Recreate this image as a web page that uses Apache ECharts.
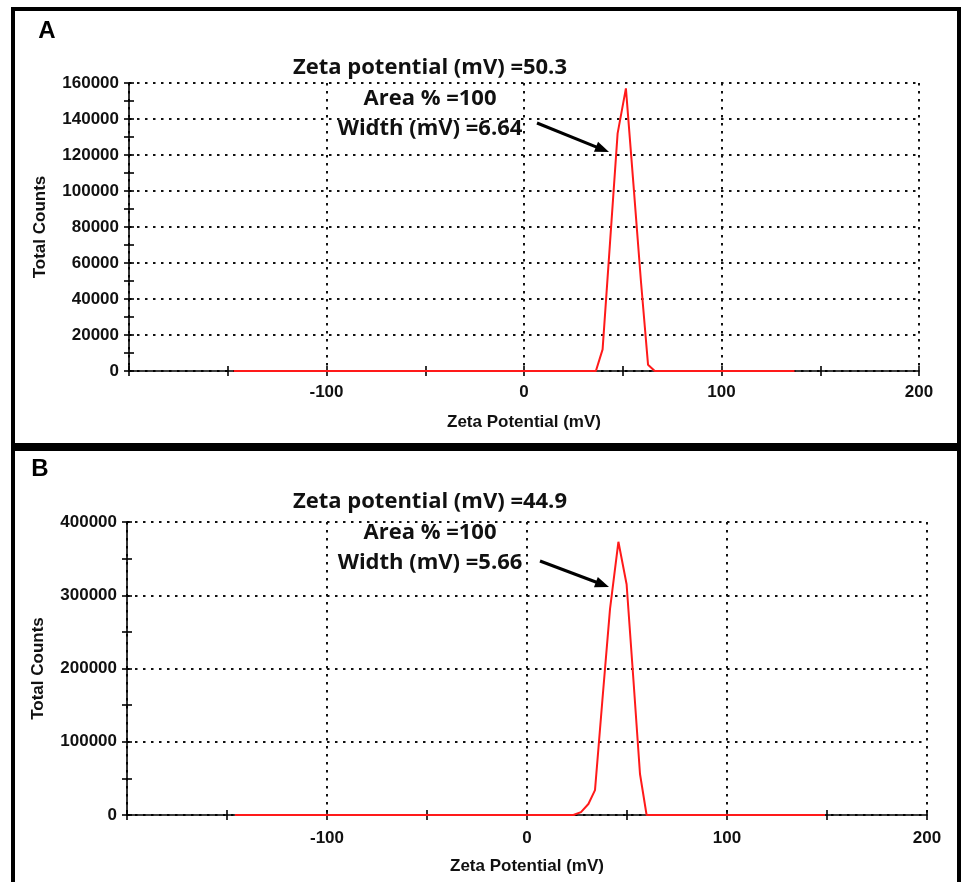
<!DOCTYPE html>
<html>
<head>
<meta charset="utf-8">
<script src="https://cdn.jsdelivr.net/npm/echarts@6/dist/echarts.min.js"></script>
<style>
html,body{margin:0;padding:0;background:#fff;}
#c{width:962px;height:882px;}
</style>
</head>
<body>
<div id="c"></div>
<script>
// ---- Data ----
const zetaA   = [-147, 32.6, 36.4, 39.8, 43.6, 47.4, 51.6, 55.4, 59.2, 62.8, 66.2, 137];
const countsA = [0, 0, 0, 12000, 72000, 132000, 157000, 104000, 50000, 3500, 0, 0];

const zetaB   = [-146, 19.5, 23.2, 27.0, 30.7, 34.0, 37.7, 41.5, 45.7, 49.8, 53.2, 56.5, 59.8, 149];
const countsB = [0, 0, 0, 4000, 15000, 34000, 157000, 281000, 373000, 315000, 185000, 56000, 0, 0];

const xTickLabels = [-100, 0, 100, 200];
const yMaxA = 160000, yIntA = 20000;
const yMaxB = 400000, yIntB = 100000;

const annA = ['Zeta potential (mV) =50.3', 'Area % =100', 'Width (mV) =6.64'];
const annB = ['Zeta potential (mV) =44.9', 'Area % =100', 'Width (mV) =5.66'];

// ---- Chart ----
const chart = echarts.init(document.getElementById('c'), null, {renderer: 'canvas'});
const AX = 'Liberation Sans, Arial, sans-serif';
const labelStyle = {color: '#111', fontFamily: AX, fontWeight: 'bold', fontSize: 17};
const dotted = {show: true, lineStyle: {color: '#111', width: 2, type: [2.5, 5.5]}};
const tickLine = {color: '#000', width: 1.6};

function tickAxis(base, step, inside) {
  return Object.assign({}, base, {
    interval: step,
    axisLine: {show: false, onZero: false},
    axisTick: {show: true, inside: inside, length: 5, lineStyle: tickLine},
    splitLine: {show: false},
    axisLabel: {show: false}
  });
}

function xAxes(grid, labelMargin) {
  const base = {type: 'value', gridIndex: grid, min: -200, max: 200, position: 'bottom'};
  return [
    Object.assign({}, base, {
      interval: 100,
      axisLine: {show: true, onZero: false, lineStyle: {color: '#000', width: 1.6}},
      axisTick: {show: false},
      splitLine: dotted,
      axisLabel: Object.assign({}, labelStyle, {
        margin: labelMargin,
        formatter: v => (xTickLabels.indexOf(v) >= 0 ? String(v) : '')
      }),
      name: 'Zeta Potential (mV)', nameLocation: 'middle', nameGap: 43,
      nameTextStyle: Object.assign({}, labelStyle)
    }),
    tickAxis(base, 50, false),
    tickAxis(base, 50, true)
  ];
}
function yAxes(grid, max, interval, gap) {
  const base = {type: 'value', gridIndex: grid, min: 0, max: max, position: 'left'};
  return [
    Object.assign({}, base, {
      interval: interval,
      axisLine: {show: true, onZero: false, lineStyle: {color: '#000', width: 1.6}},
      axisTick: {show: false},
      splitLine: dotted,
      axisLabel: Object.assign({}, labelStyle, {margin: 10, formatter: v => String(v)}),
      name: 'Total Counts', nameLocation: 'middle', nameGap: gap, nameRotate: 90,
      nameTextStyle: Object.assign({}, labelStyle)
    }),
    tickAxis(base, interval / 2, false),
    tickAxis(base, interval / 2, true)
  ];
}

function arrow(tail, tip) {
  const dx = tip[0] - tail[0], dy = tip[1] - tail[1];
  const L = Math.sqrt(dx * dx + dy * dy), ux = dx / L, uy = dy / L;
  const px = -uy, py = ux, hl = 14, hw = 5.5;
  const bx = tip[0] - hl * ux, by = tip[1] - hl * uy;
  return [
    {type: 'line', shape: {x1: tail[0], y1: tail[1], x2: bx + 2 * ux, y2: by + 2 * uy},
     style: {stroke: '#000', lineWidth: 3}, z: 100},
    {type: 'polygon', shape: {points: [tip, [bx + hw * px, by + hw * py], [bx - hw * px, by - hw * py]]},
     style: {fill: '#000'}, z: 100}
  ];
}
function annText(lines, y0) {
  return lines.map((t, i) => ({
    type: 'text', z: 100,
    x: 430, y: y0 + i * 30.5,
    style: {text: t, fill: '#111', font: 'bold 22px "Open Sans", Lato, sans-serif',
            textAlign: 'center', textVerticalAlign: 'middle'}
  }));
}

const graphics = [
  {type: 'rect', shape: {x: 13, y: 9, width: 946, height: 436}, style: {fill: null, stroke: '#000', lineWidth: 4}, z: 0},
  {type: 'rect', shape: {x: 13, y: 449, width: 946, height: 440}, style: {fill: null, stroke: '#000', lineWidth: 4}, z: 0},
  {type: 'text', x: 47, y: 31, style: {text: 'A', fill: '#000', font: 'bold 24px "Liberation Sans", Arial, sans-serif', textAlign: 'center', textVerticalAlign: 'middle'}, z: 100},
  {type: 'text', x: 40, y: 469, style: {text: 'B', fill: '#000', font: 'bold 24px "Liberation Sans", Arial, sans-serif', textAlign: 'center', textVerticalAlign: 'middle'}, z: 100}
].concat(annText(annA, 68), annText(annB, 502),
         arrow([537, 123], [609, 152]), arrow([540, 561], [609, 587]));

chart.setOption({
  animation: false,
  backgroundColor: '#fff',
  grid: [
    {left: 129, right: 43, top: 83, height: 288},
    {left: 127, right: 35, top: 522, height: 293}
  ],
  xAxis: xAxes(0, 13).concat(xAxes(1, 15)),
  yAxis: yAxes(0, yMaxA, yIntA, 80).concat(yAxes(1, yMaxB, yIntB, 80)),
  series: [
    {type: 'line', xAxisIndex: 0, yAxisIndex: 0, showSymbol: false, symbol: 'none', z: 5,
     lineStyle: {color: '#ff1a1a', width: 2}, itemStyle: {color: '#ff1a1a'},
     data: zetaA.map((x, i) => [x, countsA[i]])},
    {type: 'line', xAxisIndex: 3, yAxisIndex: 3, showSymbol: false, symbol: 'none', z: 5,
     lineStyle: {color: '#ff1a1a', width: 2}, itemStyle: {color: '#ff1a1a'},
     data: zetaB.map((x, i) => [x, countsB[i]])}
  ],
  graphic: graphics
});
</script>
</body>
</html>
